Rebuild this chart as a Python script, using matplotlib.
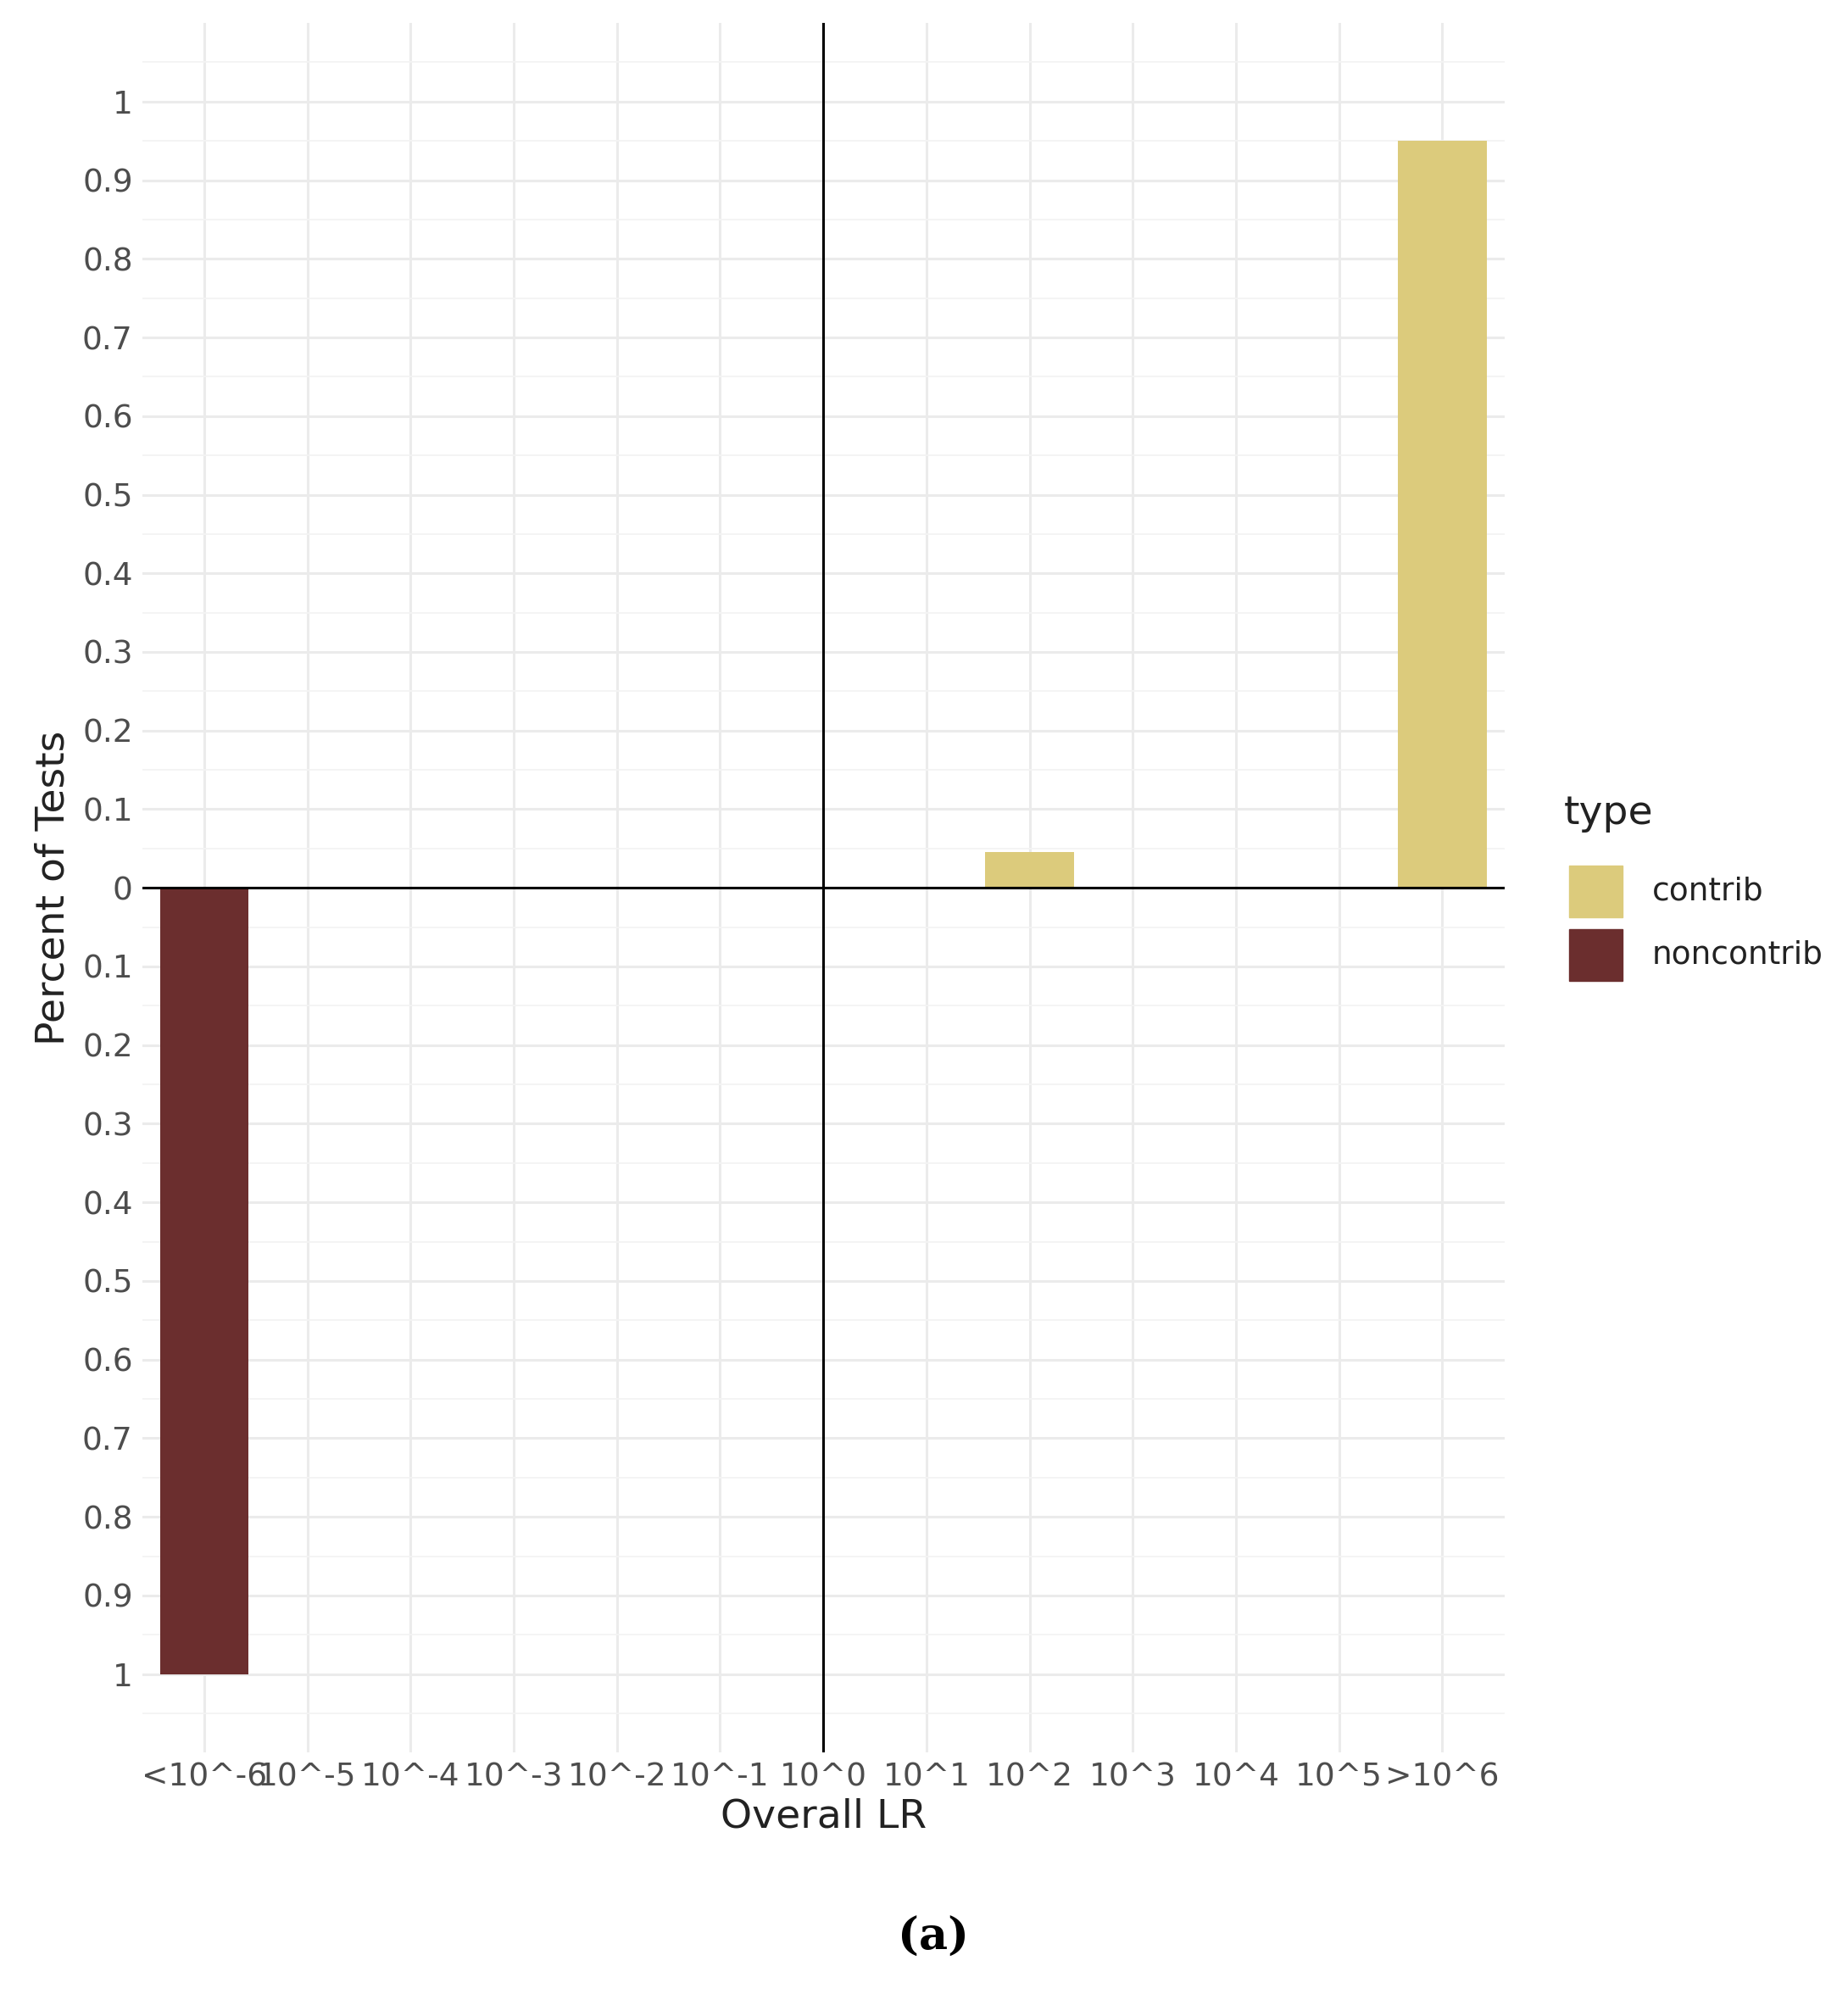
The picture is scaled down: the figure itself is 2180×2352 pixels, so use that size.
import matplotlib.pyplot as plt
from matplotlib.patches import Rectangle
import numpy as np

# categories and values
categories = ['<10^-6', '10^-5', '10^-4', '10^-3', '10^-2', '10^-1', '10^0',
              '10^1', '10^2', '10^3', '10^4', '10^5', '>10^6']
contrib = [0, 0, 0, 0, 0, 0, 0, 0, 0.045, 0, 0, 0, 0.95]
noncontrib = [1.0, 0, 0, 0, 0, 0, 0, 0, 0, 0, 0, 0, 0]
C_CON, C_NON = '#dccb7c', '#6b2e2e'

fig = plt.figure(figsize=(21.8, 23.52), dpi=100)
ax = fig.add_axes([0.077, 0.121, 0.737, 0.8675])

x = np.arange(len(categories))
ax.bar(x, contrib, width=0.86, color=C_CON, zorder=2)
ax.bar(x, [-v for v in noncontrib], width=0.86, color=C_NON, zorder=2)

ax.set_xlim(-0.6, 12.6)
ax.set_ylim(-1.1, 1.1)
yt = np.round(np.arange(-1, 1.01, 0.1), 1)
ax.set_yticks(yt)
ax.set_yticklabels([f'{abs(v):g}' for v in yt])
ax.set_yticks(np.arange(-1.05, 1.06, 0.1), minor=True)
ax.set_xticks(x)
ax.set_xticklabels(categories)

ax.grid(True, which='major', color='#ebebeb', lw=2.2, zorder=0)
ax.grid(True, which='minor', axis='y', color='#f3f3f3', lw=1.3, zorder=0)
ax.axhline(0, color='black', lw=2.2, zorder=3)
ax.axvline(6, color='black', lw=2.2, zorder=3)

for s in ax.spines.values():
    s.set_visible(False)
ax.tick_params(which='both', length=0, labelsize=27, colors='#4d4d4d', pad=8)

ax.set_xlabel('Overall LR', fontsize=34, color='#222222', labelpad=4)
ax.set_ylabel('Percent of Tests', fontsize=34, color='#222222', labelpad=8)

# legend
fig.text(0.846, 0.592, 'type', fontsize=34, color='#222222', va='center')
fig.patches.append(Rectangle((0.849, 0.540), 0.029, 0.026, transform=fig.transFigure, color=C_CON))
fig.patches.append(Rectangle((0.849, 0.508), 0.029, 0.026, transform=fig.transFigure, color=C_NON))
fig.text(0.894, 0.553, 'contrib', fontsize=27, color='#222222', va='center')
fig.text(0.894, 0.521, 'noncontrib', fontsize=27, color='#222222', va='center')

fig.text(0.505, 0.022, '(a)', fontsize=38, fontweight='bold', family='DejaVu Serif', ha='center')

fig.savefig('out.png', dpi=100, facecolor='white')
